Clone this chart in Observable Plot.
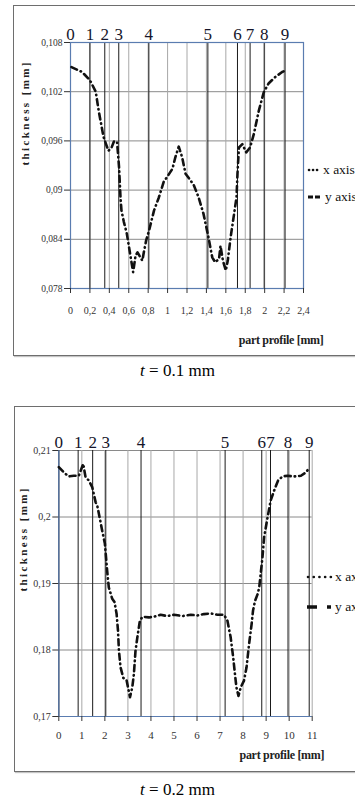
<!DOCTYPE html>
<html><head><meta charset="utf-8">
<script src="https://cdn.jsdelivr.net/npm/d3@7"></script>
<script src="https://cdn.jsdelivr.net/npm/@observablehq/plot@0.6"></script>
<style>
html,body{margin:0;padding:0;background:#fff;}
body{width:355px;height:803px;overflow:hidden;position:relative;font-family:"Liberation Serif",serif;}
.chart svg, .chart svg text, .chart svg g{font-family:"Liberation Serif",serif !important;}
.frame{position:absolute;border:1.5px solid #6e6e6e;box-shadow:1px 1px 1px #c4c4c4;background:#fff;}
.chart{position:absolute;left:0;}
.legend{position:absolute;font-size:13.5px;white-space:nowrap;color:#111;display:flex;align-items:center;height:14px;}
.legend svg{display:block;margin-right:2px;}
.caption{position:absolute;left:0;width:355px;text-align:center;font-size:17px;color:#000;}
</style></head><body>
<div class="frame" style="left:13px;top:5px;width:400px;height:349px;"></div>
<div class="frame" style="left:14px;top:406px;width:400px;height:364px;"></div>
<div id="c1" class="chart" style="top:0px;"></div>
<div id="c2" class="chart" style="top:400px;"></div>
<div class="legend" style="left:307px;top:163px;"><svg width="14" height="6"><line x1="2" y1="3" x2="12" y2="3" stroke="#111" stroke-width="2.6" stroke-dasharray="0.1,3.9" stroke-linecap="round"/></svg><span>x axis</span></div>
<div class="legend" style="left:307px;top:190px;"><svg width="16" height="6"><line x1="1" y1="3" x2="14" y2="3" stroke="#111" stroke-width="3" stroke-dasharray="5,2" /></svg><span>y axis</span></div>
<div class="legend" style="left:306px;top:570px;"><svg width="27" height="6"><line x1="2" y1="3" x2="25" y2="3" stroke="#111" stroke-width="2.6" stroke-dasharray="0.1,5.6" stroke-linecap="round"/></svg><span>x axis</span></div>
<div class="legend" style="left:306px;top:600px;"><svg width="27" height="6"><line x1="1" y1="3" x2="11" y2="3" stroke="#111" stroke-width="3.5"/><line x1="21" y1="3" x2="25" y2="3" stroke="#111" stroke-width="3.5"/></svg><span>y axis</span></div>
<div class="caption" style="top:361px;"><i>t</i> = 0.1 mm</div>
<div class="caption" style="top:780px;"><i>t</i> = 0.2 mm</div>
<script>
// ---- panel 1: t = 0.1 mm ----
const t1Profile = [0.01,0.12,0.20,0.26,0.29,0.34,0.39,0.42,0.45,0.48,0.50,0.515,0.525,0.55,0.58,0.62,0.645,0.67,0.69,0.71,0.74,0.755,0.78,0.81,0.86,0.91,0.96,0.995,1.05,1.08,1.115,1.15,1.185,1.235,1.27,1.32,1.37,1.42,1.46,1.49,1.53,1.545,1.57,1.60,1.62,1.65,1.68,1.71,1.72,1.735,1.77,1.81,1.85,1.89,1.94,1.99,2.04,2.11,2.18,2.22];
const t1Thickness = [0.1050,0.1044,0.1034,0.1020,0.0997,0.0965,0.0948,0.0951,0.0960,0.0958,0.0928,0.0891,0.0875,0.0861,0.0847,0.0818,0.0800,0.0820,0.0824,0.0820,0.0814,0.0824,0.0839,0.0851,0.0875,0.0891,0.0910,0.0916,0.0926,0.0940,0.0953,0.0940,0.0920,0.0912,0.0906,0.0891,0.0871,0.0843,0.0818,0.0812,0.0816,0.0832,0.0814,0.0802,0.0814,0.0843,0.0867,0.0891,0.0920,0.0952,0.0956,0.0946,0.0952,0.0969,0.0997,0.1019,0.1030,0.1038,0.1044,0.1046];
const t1XTicks = [0,0.2,0.4,0.6,0.8,1,1.2,1.4,1.6,1.8,2,2.2,2.4];
const t1YTicks = [0.078,0.084,0.09,0.096,0.102,0.108];
const t1Markers = [0,0.2,0.353,0.497,0.807,1.415,1.72,1.85,1.995,2.21];
const markerLabels = ["0","1","2","3","4","5","6","7","8","9"];

// ---- panel 2: t = 0.2 mm ----
const t2Profile = [0,0.22,0.43,0.65,0.87,1.06,1.16,1.30,1.45,1.60,1.67,1.74,1.88,2.00,2.10,2.17,2.32,2.42,2.51,2.57,2.61,2.68,2.80,2.94,3.09,3.19,3.26,3.33,3.41,3.52,3.63,3.91,4.13,4.42,4.71,5.00,5.37,5.73,6.02,6.30,6.59,6.88,7.17,7.32,7.46,7.57,7.64,7.71,7.80,7.90,8.04,8.15,8.26,8.37,8.43,8.52,8.63,8.70,8.84,8.91,9.06,9.20,9.35,9.52,9.71,9.93,10.22,10.51,10.73,10.87];
const t2Thickness = [0.2075,0.2067,0.2061,0.2062,0.2062,0.2080,0.2060,0.2055,0.2045,0.2022,0.2017,0.2005,0.1980,0.1960,0.1919,0.1894,0.1877,0.1872,0.1854,0.1829,0.1799,0.1774,0.1758,0.1755,0.1729,0.1744,0.1764,0.1799,0.1819,0.1844,0.1850,0.1849,0.1850,0.1853,0.1851,0.1853,0.1851,0.1853,0.1852,0.1854,0.1855,0.1853,0.1853,0.1844,0.1819,0.1789,0.1766,0.1744,0.1731,0.1744,0.1754,0.1774,0.1809,0.1839,0.1859,0.1874,0.1884,0.1894,0.1939,0.1969,0.1999,0.2025,0.2040,0.2055,0.2061,0.2062,0.2061,0.2062,0.2067,0.2074];
const t2XTicks = [0,1,2,3,4,5,6,7,8,9,10,11];
const t2YTicks = [0.17,0.18,0.19,0.2,0.21];
const t2Markers = [0,0.84,1.47,2.04,3.57,7.22,8.81,9.19,9.95,10.87];

const yTitle = "thickness [mm]";
const xTitle = "part profile [mm]";
const comma = d => String(+d.toFixed(4)).replace(".", ",");
const blue = "#5a7cb0";
const serif = "Liberation Serif";
const dash = "6,4,0.5,4";

const rows1 = t1Profile.map((x, i) => ({x, y: t1Thickness[i]}));
const rows2 = t2Profile.map((x, i) => ({x, y: t2Thickness[i]}));

const p1 = Plot.plot({
  width: 355, height: 355,
  marginLeft: 70, marginRight: 52, marginTop: 42, marginBottom: 67,
  style: {background: "transparent", fontFamily: serif, overflow: "visible"},
  x: {domain: [0, 2.4]},
  y: {domain: [0.078, 0.108]},
  marks: [
    Plot.ruleY(t1YTicks, {stroke: "#8a8a8a", strokeWidth: 1}),
    Plot.ruleX(t1XTicks, {stroke: "#a8a8a8", strokeWidth: 1}),
    Plot.ruleX(t1Markers, {stroke: "#1a1a1a", strokeWidth: 1}),
    Plot.frame({stroke: blue, strokeWidth: 1.2}),
    Plot.axisX({ticks: t1XTicks, tickFormat: comma, tickSize: 5, tickPadding: 13, fontSize: 10, fontFamily: serif, label: null, color: "#333"}),
    Plot.axisY({ticks: t1YTicks, tickFormat: comma, tickSize: 6, tickPadding: 2, fontSize: 9.5, fontFamily: serif, label: null, color: "#333"}),
    Plot.text(t1Markers, {x: d => d, text: (d, i) => markerLabels[i], frameAnchor: "top", lineAnchor: "bottom", dy: -3, fontSize: 17, fontFamily: serif, fill: "#15152a"}),
    Plot.line(rows1, {x: "x", y: "y", stroke: "#111", strokeWidth: 2.6, strokeDasharray: dash, strokeLinecap: "round"}),
    Plot.text([yTitle], {text: d => d, frameAnchor: "left", dx: -45, rotate: -90, fontWeight: "bold", fontSize: 11, fontFamily: serif, fill: "#222"}),
    Plot.text([xTitle], {text: d => d, frameAnchor: "bottom-right", dx: 20, dy: 55, textAnchor: "end", fontWeight: "bold", fontSize: 12, fontFamily: serif, fill: "#222"})
  ]
});
document.getElementById("c1").append(p1);

const p2 = Plot.plot({
  width: 355, height: 371,
  marginLeft: 58.3, marginRight: 43.3, marginTop: 50, marginBottom: 55,
  style: {background: "transparent", fontFamily: serif, overflow: "visible"},
  x: {domain: [0, 11]},
  y: {domain: [0.17, 0.21]},
  marks: [
    Plot.ruleY(t2YTicks, {stroke: "#8a8a8a", strokeWidth: 1}),
    Plot.ruleX(t2XTicks, {stroke: "#a8a8a8", strokeWidth: 1}),
    Plot.ruleX(t2Markers, {stroke: "#1a1a1a", strokeWidth: 1}),
    Plot.ruleX([0], {stroke: blue, strokeWidth: 1.2}),
    Plot.ruleY([0.17], {stroke: blue, strokeWidth: 1.2}),
    Plot.axisX({ticks: t2XTicks, tickFormat: comma, tickSize: 5, tickPadding: 10, fontSize: 11, fontFamily: serif, label: null, color: "#333"}),
    Plot.axisY({ticks: t2YTicks, tickFormat: comma, tickSize: 6, tickPadding: 2, fontSize: 10, fontFamily: serif, label: null, color: "#333"}),
    Plot.text(t2Markers, {x: d => d, text: (d, i) => markerLabels[i], frameAnchor: "top", lineAnchor: "bottom", dy: -3, fontSize: 17, fontFamily: serif, fill: "#15152a"}),
    Plot.line(rows2, {x: "x", y: "y", stroke: "#111", strokeWidth: 2.6, strokeDasharray: dash, strokeLinecap: "round"}),
    Plot.text([yTitle], {text: d => d, frameAnchor: "left", dx: -35, dy: 8, rotate: -90, fontWeight: "bold", fontSize: 11, fontFamily: serif, fill: "#222"}),
    Plot.text([xTitle], {text: d => d, frameAnchor: "bottom-right", dx: 12, dy: 42, textAnchor: "end", fontWeight: "bold", fontSize: 12, fontFamily: serif, fill: "#222"})
  ]
});
document.getElementById("c2").append(p2);

// letter spacing of the axis titles as in the reference
document.querySelectorAll("svg text").forEach(t => {
  if (t.textContent === yTitle) t.style.letterSpacing = "2.4px";
  if (t.textContent === xTitle) t.style.letterSpacing = "-0.3px";
});
</script>
</body></html>
